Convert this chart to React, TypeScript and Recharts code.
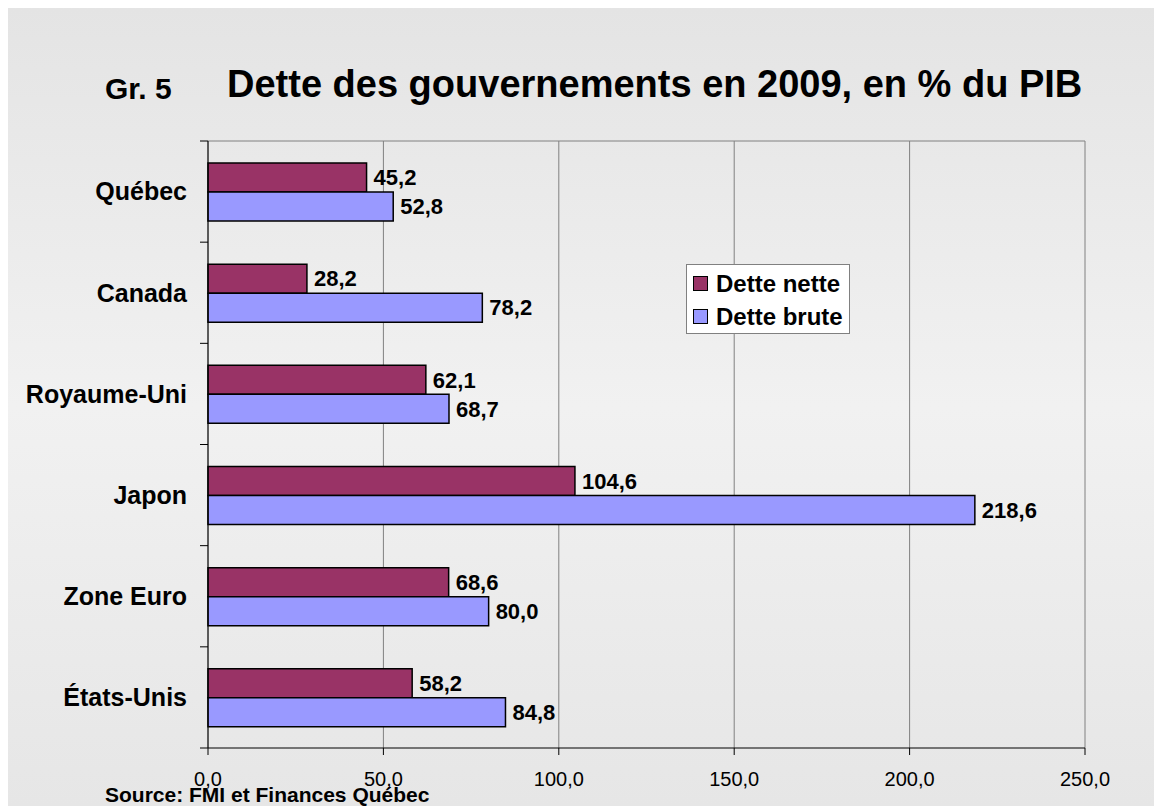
import { Bar, BarChart, CartesianGrid, LabelList, Legend, XAxis, YAxis } from 'recharts';

const categories = ['Québec', 'Canada', 'Royaume-Uni', 'Japon', 'Zone Euro', 'États-Unis'];
const detteNette = [45.2, 28.2, 62.1, 104.6, 68.6, 58.2];
const detteBrute = [52.8, 78.2, 68.7, 218.6, 80.0, 84.8];
const xTicks = [0, 50, 100, 150, 200, 250];

const series = [
  { dataKey: 'nette', name: 'Dette nette', color: '#993366' },
  { dataKey: 'brute', name: 'Dette brute', color: '#9999FF' },
];

const data = categories.map((pays, i) => ({ pays, nette: detteNette[i], brute: detteBrute[i] }));

const FONT = "Arial, 'Liberation Sans', sans-serif";
const fmt = (v: number) => v.toFixed(1).replace('.', ',');

function CategoryTick(props: any) {
  const { x, y, payload, index } = props;
  const half = payload?.offset ?? 50.6;
  const axisX = x + 21;
  return (
    <g>
      <line x1={axisX - 8} x2={axisX} y1={y - half} y2={y - half} stroke="#000" />
      {index === categories.length - 1 && (
        <line x1={axisX - 8} x2={axisX} y1={y + half} y2={y + half} stroke="#000" />
      )}
      <text x={x} y={y} dy="0.35em" textAnchor="end" fontSize={25} fontWeight="bold" fill="#000" fontFamily={FONT}>
        {payload.value}
      </text>
    </g>
  );
}

function LegendBox() {
  return (
    <div
      style={{
        background: '#fff',
        border: '1px solid #808080',
        padding: '2px 6px 0 6px',
        fontFamily: FONT,
        fontWeight: 'bold',
        fontSize: 24,
        lineHeight: '33px',
        whiteSpace: 'nowrap',
      }}
    >
      {series.map((s) => (
        <div key={s.dataKey} style={{ display: 'flex', alignItems: 'center' }}>
          <span
            style={{
              display: 'inline-block',
              width: 13,
              height: 13,
              background: s.color,
              border: '1.5px solid #000',
              marginRight: 8,
            }}
          />
          {s.name}
        </div>
      ))}
    </div>
  );
}

export default function App() {
  return (
    <div
      style={{
        position: 'relative',
        width: 1154,
        height: 798,
        background: 'linear-gradient(to bottom, #e4e4e4 0%, #f1f1f1 50%, #e6e6e6 100%)',
        fontFamily: FONT,
      }}
    >
      <svg width={1154} height={798} style={{ position: 'absolute', left: 0, top: 0 }}>
        <text x={97} y={91} fontSize={30} fontWeight="bold" fill="#000" fontFamily={FONT}>
          Gr. 5
        </text>
        <text x={219} y={89} fontSize={38} fontWeight="bold" fill="#000" fontFamily={FONT}>
          Dette des gouvernements en 2009, en % du PIB
        </text>
      </svg>
      <div style={{ position: 'absolute', left: 0, top: 0 }}>
        <BarChart
          width={1154}
          height={798}
          data={data}
          layout="vertical"
          margin={{ top: 132, right: 77, left: 10, bottom: 18 }}
          barCategoryGap={22}
          barGap={0}
        >
          <CartesianGrid horizontal={false} stroke="#808080" />
          <XAxis
            type="number"
            domain={[0, 250]}
            ticks={xTicks}
            tickFormatter={fmt}
            tick={{ fontSize: 20, fill: '#000', fontFamily: FONT }}
            tickSize={7}
            tickMargin={17}
            axisLine={{ stroke: '#000' }}
            tickLine={{ stroke: '#000' }}
            height={40}
          />
          <XAxis
            xAxisId="top"
            orientation="top"
            type="number"
            domain={[0, 250]}
            tick={false}
            tickLine={false}
            axisLine={{ stroke: '#808080' }}
            height={1}
          />
          <YAxis
            type="category"
            dataKey="pays"
            width={190}
            interval={0}
            tick={<CategoryTick />}
            tickLine={false}
            tickSize={8}
            tickMargin={13}
            axisLine={{ stroke: '#000' }}
          />
          <Legend
            layout="vertical"
            align="center"
            verticalAlign="middle"
            content={<LegendBox />}
            wrapperStyle={{ position: 'absolute', left: 678, top: 256, width: 'auto', height: 'auto' }}
          />
          {series.map((s) => (
            <Bar
              key={s.dataKey}
              dataKey={s.dataKey}
              name={s.name}
              fill={s.color}
              stroke="#000"
              strokeWidth={1.5}
              isAnimationActive={false}
            >
              <LabelList
                dataKey={s.dataKey}
                position="right"
                offset={7}
                formatter={(v: any) => fmt(Number(v))}
                style={{ fontSize: 22, fontWeight: 'bold', fill: '#000', fontFamily: FONT }}
              />
            </Bar>
          ))}
        </BarChart>
      </div>
      <div
        style={{
          position: 'absolute',
          left: 97,
          top: 775,
          fontSize: 21,
          fontWeight: 'bold',
          lineHeight: '23px',
          color: '#000',
          whiteSpace: 'nowrap',
        }}
      >
        Source: FMI et Finances Québec
      </div>
    </div>
  );
}
